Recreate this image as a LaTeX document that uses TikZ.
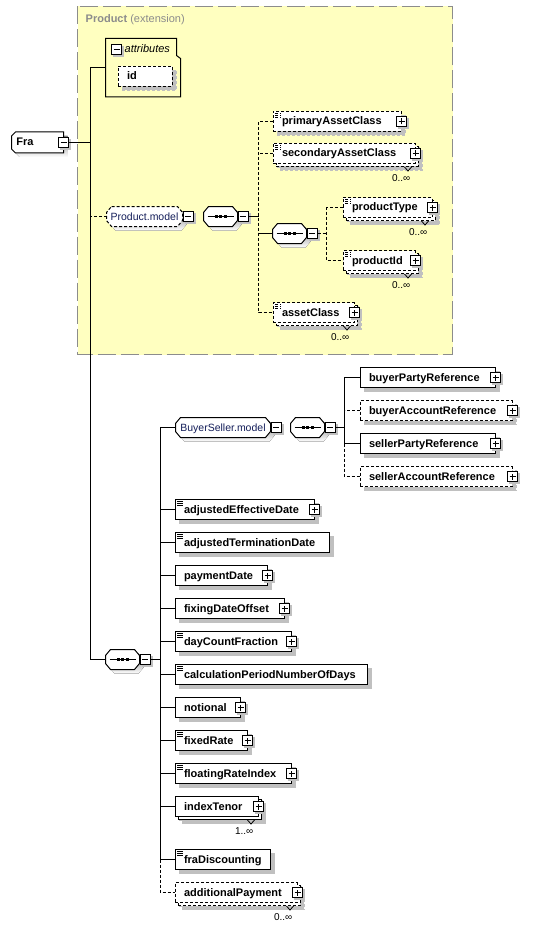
\documentclass[tikz,border=0pt]{standalone}
\usepackage{fontspec}
\usetikzlibrary{calc}
\usetikzlibrary{shapes.misc,shadows}
\usetikzlibrary{positioning}
\newfontfamily\xsdfont{Liberation Sans}
\newcommand{\elfont}{\xsdfont\bfseries\fontsize{11}{13}\selectfont}
\newcommand{\grpfont}{\xsdfont\fontsize{10.5}{13}\selectfont}
\newcommand{\occfont}{\xsdfont\fontsize{10}{12}\selectfont}
\definecolor{extfill}{RGB}{255,255,192}
\definecolor{extline}{RGB}{140,140,140}
\definecolor{grpblue}{RGB}{20,30,90}
\definecolor{shade}{RGB}{192,192,192}
\pgfdeclarelayer{back}
\pgfdeclarelayer{bg}
\pgfsetlayers{back,bg,main}

\tikzstyle{opt}=[dash pattern=on 3pt off 2pt]
\tikzstyle{con}=[line width=1pt]
\tikzstyle{shd}=[drop shadow={shadow xshift=4pt, shadow yshift=-4pt, fill=shade, draw=shade, opacity=1}]
\tikzstyle{el}=[draw, rectangle, line width=1pt, fill=white, anchor=west,
minimum height=20pt, inner xsep=9pt, inner ysep=0pt, text height=8.5pt,
text depth=1.5pt, align=left, font=\elfont, shd]
\tikzstyle{many}=[drop shadow={shadow xshift=7pt, shadow yshift=-7pt, fill=shade, draw=shade, opacity=1},
copy shadow={shadow xshift=3pt, shadow yshift=-3pt, fill=white, draw=black}]
\tikzstyle{manyopt}=[drop shadow={shadow xshift=7pt, shadow yshift=-7pt, fill=shade, draw=shade, opacity=1},
copy shadow={shadow xshift=3pt, shadow yshift=-3pt, fill=white, draw=black, opt}]
\tikzstyle{typ}=[path picture={
  \draw[line width=0.8pt] ([shift={(2pt,-2pt)}]path picture bounding box.north west) -- ++(6pt,0pt)
    ([shift={(2pt,-4pt)}]path picture bounding box.north west) -- ++(6pt,0pt)
    ([shift={(2pt,-6pt)}]path picture bounding box.north west) -- ++(6pt,0pt);}]
\tikzstyle{pm}=[draw, rectangle, line width=1pt, fill=white, minimum size=10pt, inner sep=0pt,
drop shadow={shadow xshift=2pt, shadow yshift=-2pt, fill=shade, draw=shade, opacity=1}]
\tikzstyle{minus}=[pm, path picture={
  \draw[line width=1pt] ([xshift=-3pt]path picture bounding box.center) -- ([xshift=3pt]path picture bounding box.center);}]
\tikzstyle{plus}=[pm, path picture={
  \draw[line width=1pt] ([xshift=-3pt]path picture bounding box.center) -- ([xshift=3pt]path picture bounding box.center)
    ([yshift=-3pt]path picture bounding box.center) -- ([yshift=3pt]path picture bounding box.center);}]
\tikzstyle{grp}=[rectangle, anchor=west, minimum height=20pt, inner xsep=2pt, inner ysep=0pt, outer sep=0pt,
text height=8.5pt, text depth=1.5pt, font=\grpfont, text=grpblue]
\tikzstyle{seq}=[rectangle, anchor=west, minimum width=34pt, minimum height=20pt, inner sep=0pt, outer sep=0pt]
\tikzstyle{root}=[rectangle, anchor=west, minimum width=52pt, minimum height=21pt, inner xsep=5pt,
inner ysep=0pt, outer sep=0pt, text width=42pt, align=left, text height=8.5pt, text depth=1.5pt, font=\elfont]
\tikzstyle{occ}=[font=\occfont, inner sep=0pt]
\tikzset{elwidth/.code={\pgfmathsetmacro\elw{#1}\pgfmathsetmacro\eltw{#1-18}%
\tikzset{minimum width=\elw pt, text width=\eltw pt}}}

% octagon outline for model groups and compositors
\newcommand{\octpath}[1]{($(#1.north west)+(5,0)$) -- ($(#1.north east)+(-5,0)$) -- ($(#1.north east)+(0,6)$)
 -- ($(#1.south east)+(0,-6)$) -- ($(#1.south east)+(-5,0)$) -- ($(#1.south west)+(5,0)$)
 -- ($(#1.south west)+(0,-6)$) -- ($(#1.north west)+(0,6)$) -- cycle}
\newcommand{\octo}[2][]{%
\begin{pgfonlayer}{bg}
\fill[shade, transform canvas={shift={(4pt,-4pt)}}] \octpath{#2};
\draw[con, fill=white, #1] \octpath{#2};
\end{pgfonlayer}}
% sequence sign
\newcommand{\seqdots}[1]{%
\draw[con] ($(#1.center)+(-13,0)$) -- ($(#1.center)+(13,0)$);
\fill ($(#1.center)+(-6,-1.5)$) rectangle ++(3,3);
\fill ($(#1.center)+(-1.5,-1.5)$) rectangle ++(3,3);
\fill ($(#1.center)+(3,-1.5)$) rectangle ++(3,3);}
% occurrence mark under a stacked element
\newcommand{\occ}[2]{%
\draw[line width=0.8pt] ($(#1.south east)+(-11,3)$) -- ++(3.5,4) -- ++(3.5,-4);
\node[occ, anchor=east] (#1o) at ($(#1.south east)+(-5,14)$) {#2};}

\begin{document}
\begin{tikzpicture}[x=1pt, y=-1pt]
\useasboundingbox (-0.5,-0.5) rectangle (541.5,927.5);

% extension frame
\begin{pgfonlayer}{back}
\draw[fill=extfill, draw=extline, line width=1.5pt, dash pattern=on 18pt off 5pt] (77,6) rectangle (452,354);
\end{pgfonlayer}
\node[anchor=west, text=extline, font=\xsdfont\fontsize{11}{13}\selectfont, inner sep=0pt] (extl) at (85,19)
{\textbf{Product} (extension)};

\node[root] (fra) at (11,142) {Fra};
\begin{pgfonlayer}{bg}
\fill[shade, transform canvas={shift={(4pt,-4pt)}}] ($(fra.north west)+(4,0)$) -- (fra.north east)
  -- (fra.south east) -- ($(fra.south west)+(4,0)$) -- ($(fra.south west)+(0,-4)$) -- ($(fra.north west)+(0,4)$) -- cycle;
\draw[con, fill=white] ($(fra.north west)+(4,0)$) -- (fra.north east)
  -- (fra.south east) -- ($(fra.south west)+(4,0)$) -- ($(fra.south west)+(0,-4)$) -- ($(fra.north west)+(0,4)$) -- cycle;
\end{pgfonlayer}
\node[minus] (fram) at (fra.east) {};

% attributes
\node[anchor=north west, minimum width=75pt, minimum height=58pt, inner sep=0pt] (attr) at (105,38) {};
\draw[con] (attr.north west) -- ++(71,0) -- ++(0,17) -- ++(4,3) |- (attr.south west) -- cycle;
\node[minus] (attrm) at (116,49) {};
\node[anchor=west, font=\xsdfont\itshape\fontsize{11}{13}\selectfont, inner sep=0pt] (attrt) at (124,48.5) {attributes};
\node[el, opt, elwidth=54] (id) at (117,76) {id};

% Product.model
\node[grp, minimum width=76pt] (pmod) at (106,216) {Product.model};
\octo[opt]{pmod}
\node[minus, anchor=west] (pmodm) at (pmod.east) {};
\node[seq] (sq1) at (203,216) {};
\octo{sq1}
\seqdots{sq1}
\node[minus, anchor=west] (sq1m) at (sq1.east) {};

\node[el, typ, opt, elwidth=128] (pac) at (272,121) {primaryAssetClass};
\node[plus] (pacp) at (pac.east) {};
\node[el, typ, opt, manyopt, elwidth=142] (sac) at (272,153) {secondaryAssetClass};
\node[plus] (sacp) at (sac.east) {};
\occ{sac}{0..∞}

\node[seq] (sq2) at (272,233) {};
\octo{sq2}
\seqdots{sq2}
\node[minus, anchor=west] (sq2m) at (sq2.east) {};
\node[el, typ, opt, manyopt, elwidth=89] (ptype) at (342,207) {productType};
\node[plus] (ptypep) at (ptype.east) {};
\occ{ptype}{0..∞}
\node[el, typ, opt, manyopt, elwidth=72] (pid) at (342,260) {productId};
\node[plus] (pidp) at (pid.east) {};
\occ{pid}{0..∞}

\node[el, typ, opt, manyopt, elwidth=81] (acls) at (272,312) {assetClass};
\node[plus] (aclsp) at (acls.east) {};
\occ{acls}{0..∞}

% main sequence
\node[seq] (sq3) at (105,659) {};
\octo{sq3}
\seqdots{sq3}
\node[minus, anchor=west] (sq3m) at (sq3.east) {};

\node[grp, minimum width=95pt] (bsm) at (175,427) {BuyerSeller.model};
\octo{bsm}
\node[minus, anchor=west] (bsmm) at (bsm.east) {};
\node[seq] (sq4) at (290,427) {};
\octo{sq4}
\seqdots{sq4}
\node[minus, anchor=west] (sq4m) at (sq4.east) {};

\node[el, elwidth=135] (bpr) at (359,377) {buyerPartyReference};
\node[plus] (bprp) at (bpr.east) {};
\node[el, opt, elwidth=152] (bar) at (359,410) {buyerAccountReference};
\node[plus] (barp) at (bar.east) {};
\node[el, elwidth=135] (spr) at (359,443) {sellerPartyReference};
\node[plus] (sprp) at (spr.east) {};
\node[el, opt, elwidth=152] (sar) at (359,476) {sellerAccountReference};
\node[plus] (sarp) at (sar.east) {};

\node[el, typ, elwidth=139] (aed) at (174,509) {adjustedEffectiveDate};
\node[plus] (aedp) at (aed.east) {};
\node[el, typ, elwidth=154] (atd) at (174,542) {adjustedTerminationDate};
\node[el, elwidth=92] (pdate) at (174,575) {paymentDate};
\node[plus] (pdatep) at (pdate.east) {};
\node[el, elwidth=109] (fdo) at (174,608) {fixingDateOffset};
\node[plus] (fdop) at (fdo.east) {};
\node[el, typ, elwidth=116] (dcf) at (174,641) {dayCountFraction};
\node[plus] (dcfp) at (dcf.east) {};
\node[el, typ, elwidth=192] (cpnd) at (174,674) {calculationPeriodNumberOfDays};
\node[el, elwidth=65] (notl) at (174,707) {notional};
\node[plus] (notlp) at (notl.east) {};
\node[el, typ, elwidth=72] (frate) at (174,740) {fixedRate};
\node[plus] (fratep) at (frate.east) {};
\node[el, typ, elwidth=116] (fri) at (174,773) {floatingRateIndex};
\node[plus] (frip) at (fri.east) {};
\node[el, many, elwidth=83] (itenor) at (174,806) {indexTenor};
\node[plus] (itenorp) at (itenor.east) {};
\occ{itenor}{1..∞}
\node[el, typ, elwidth=95] (fdisc) at (174,859) {fraDiscounting};
\node[el, opt, manyopt, elwidth=122] (apay) at (174,892) {additionalPayment};
\node[plus] (apayp) at (apay.east) {};
\occ{apay}{0..∞}

% connectors
\coordinate (t1) at (90,142);
\draw[con] (fram.east) -- (t1);
\draw[con] (attr.west) -| (t1) |- (sq3.west);
\draw[con, opt] (pmod.west) -- (pmod.west -| t1);

\coordinate (t2) at (258,216);
\draw[con] (sq1m.east) -- (t2);
\draw[con, opt] (pac.west) -| (t2) |- (acls.west);
\draw[con, opt] (sac.west) -- (sac.west -| t2);
\draw[con] (sq2.west) -- (sq2.west -| t2);

\coordinate (t3) at (326,233);
\draw[con, opt] (sq2m.east) -- (t3);
\draw[con, opt] (ptype.west) -| (t3) |- (pid.west);

\coordinate (t4) at (160,659);
\draw[con] (sq3m.east) -- (t4);
\draw[con] (bsm.west) -| (t4) |- (fdisc.west);
\foreach \n in {aed,atd,pdate,fdo,dcf,cpnd,notl,frate,fri,itenor}
  \draw[con] (\n.west) -- (\n.west -| t4);
\draw[con, opt] (fdisc.west -| t4) |- (apay.west);

\coordinate (t5) at (344,427);
\draw[con] (sq4m.east) -- (t5);
\draw[con] (bpr.west) -| (t5) |- (spr.west);
\draw[con, opt] (spr.west -| t5) |- (sar.west);
\draw[con, opt] (bar.west) -- (bar.west -| t5);
\end{tikzpicture}
\end{document}
